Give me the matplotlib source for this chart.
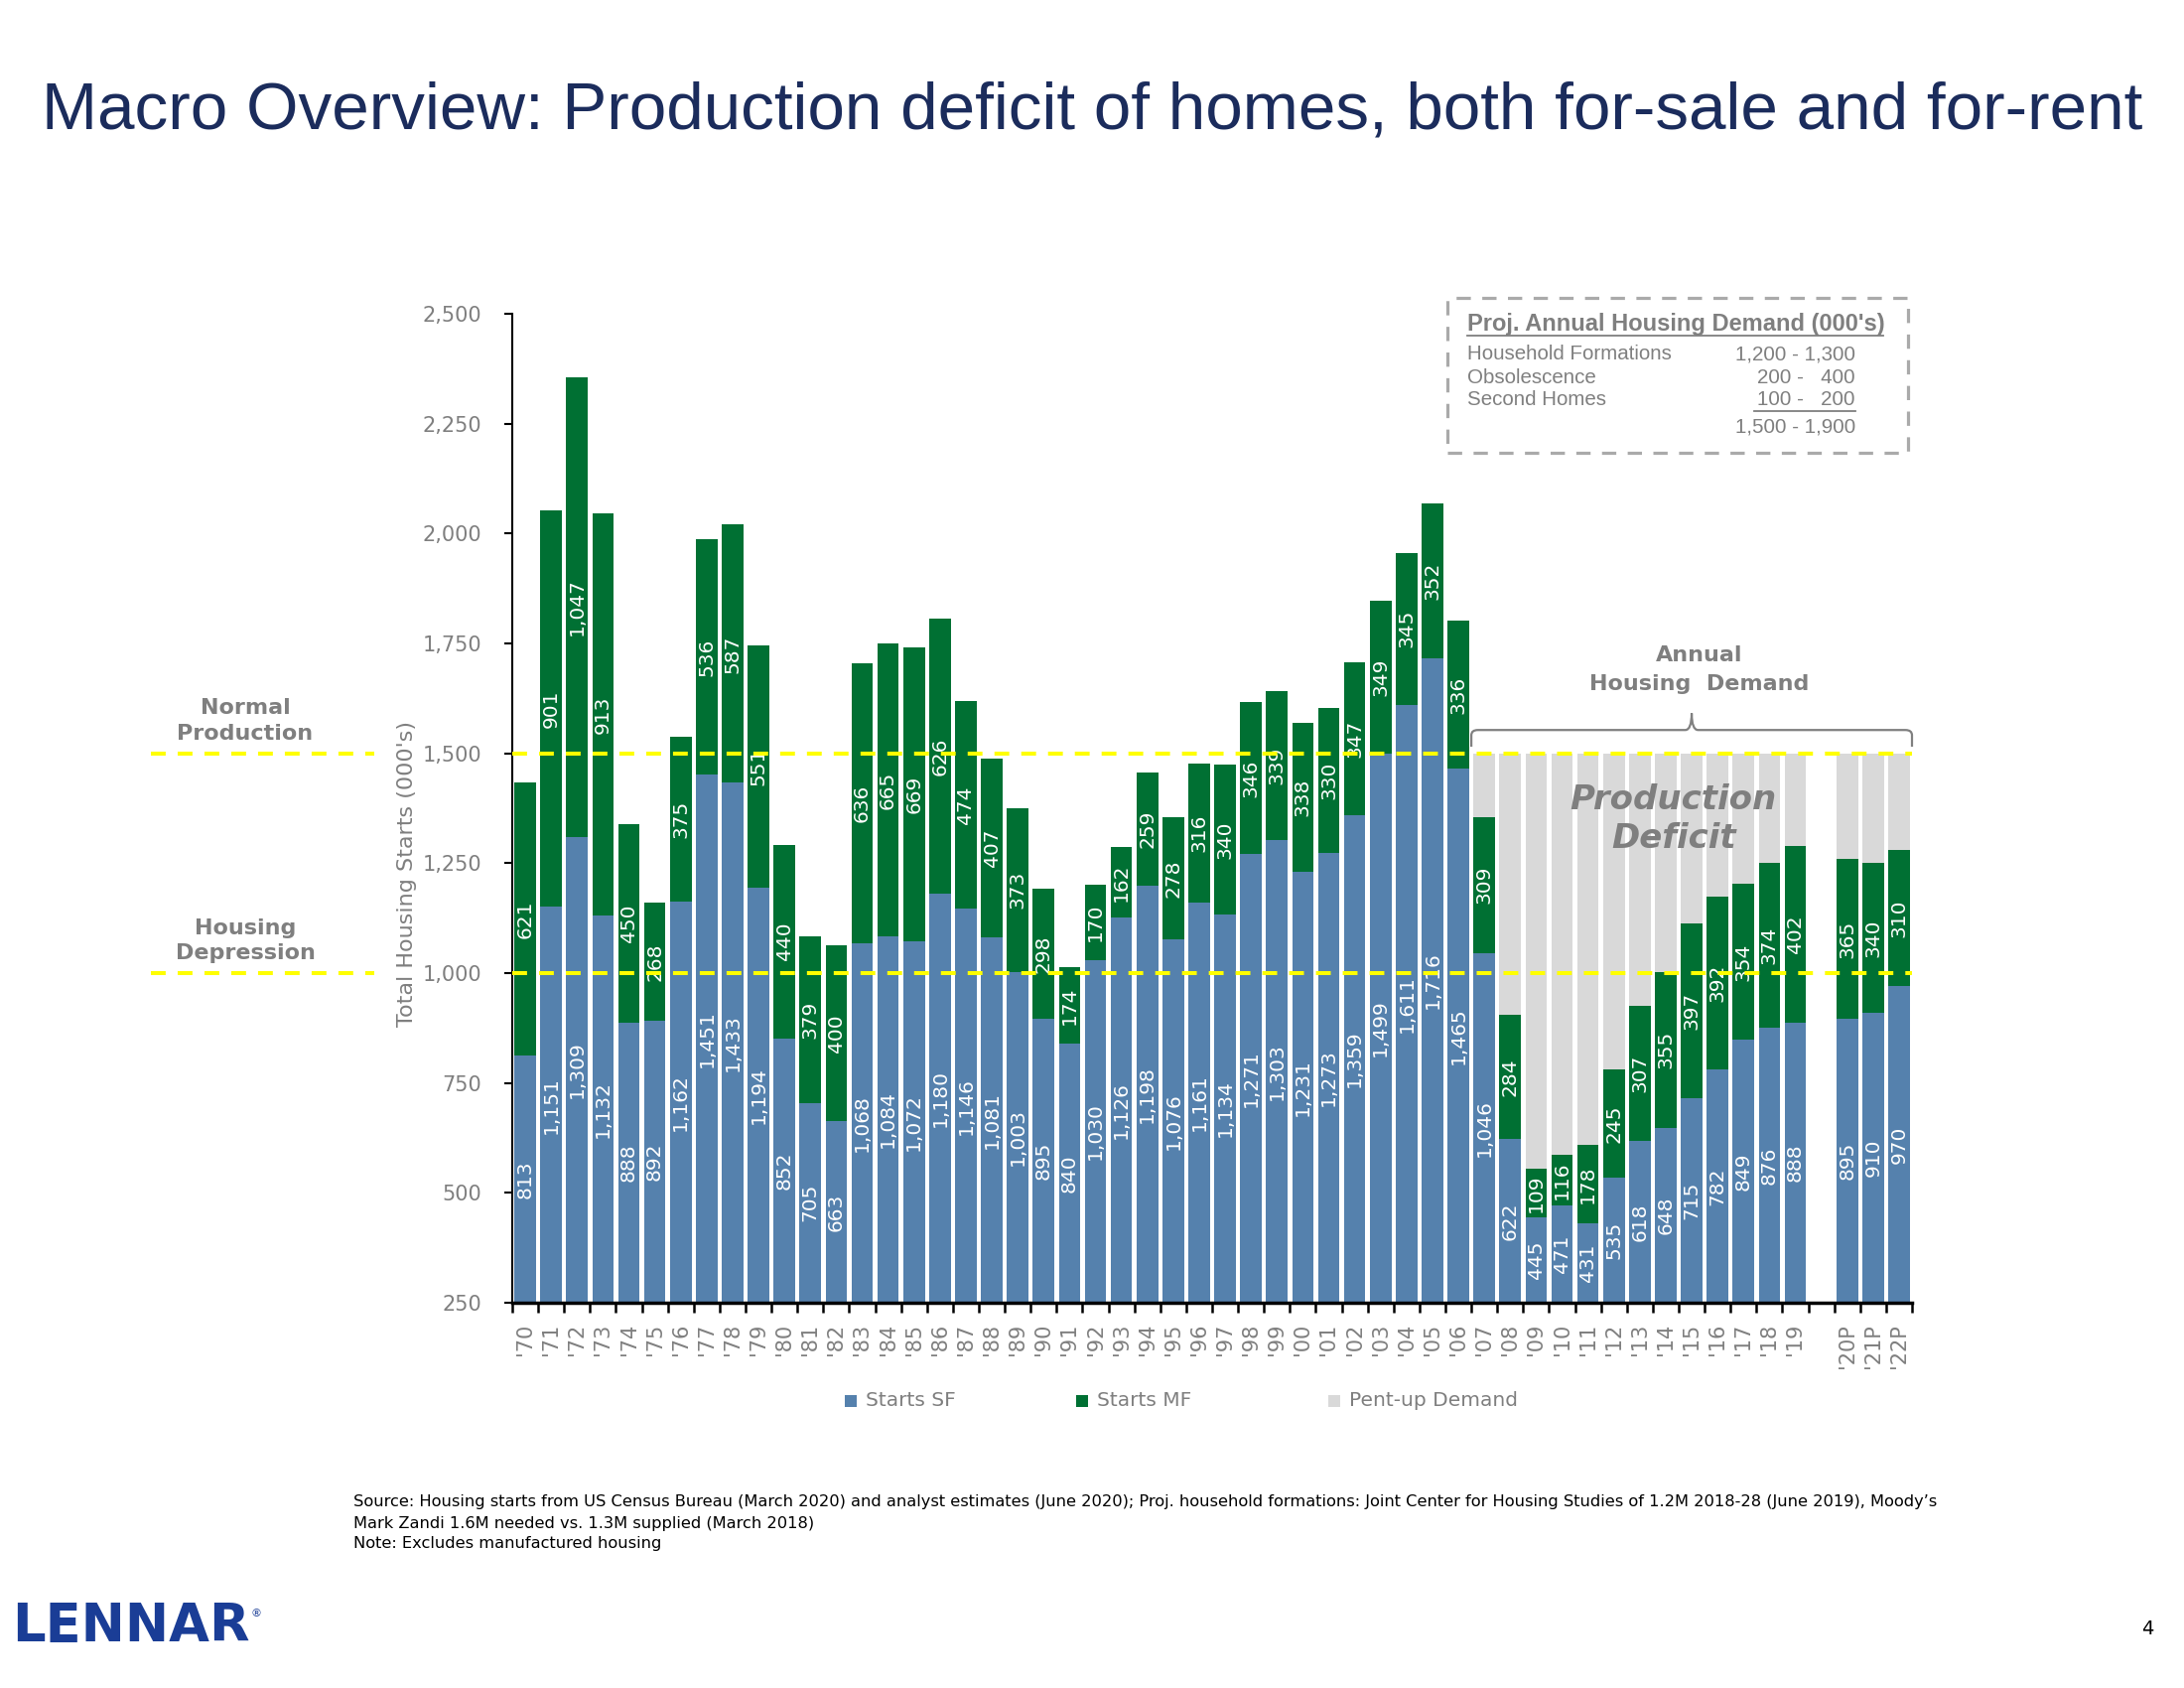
import numpy as np
import matplotlib
matplotlib.use("Agg")
import matplotlib.pyplot as plt
from matplotlib.patches import Rectangle, PathPatch
from matplotlib.lines import Line2D
from matplotlib.path import Path
import matplotlib.transforms as mtransforms

# ---------------- data ----------------
years = ["'70", "'71", "'72", "'73", "'74", "'75", "'76", "'77", "'78", "'79",
         "'80", "'81", "'82", "'83", "'84", "'85", "'86", "'87", "'88", "'89",
         "'90", "'91", "'92", "'93", "'94", "'95", "'96", "'97", "'98", "'99",
         "'00", "'01", "'02", "'03", "'04", "'05", "'06", "'07", "'08", "'09",
         "'10", "'11", "'12", "'13", "'14", "'15", "'16", "'17", "'18", "'19",
         "", "'20P", "'21P", "'22P"]

starts_sf = [813, 1151, 1309, 1132, 888, 892, 1162, 1451, 1433, 1194,
             852, 705, 663, 1068, 1084, 1072, 1180, 1146, 1081, 1003,
             895, 840, 1030, 1126, 1198, 1076, 1161, 1134, 1271, 1303,
             1231, 1273, 1359, 1499, 1611, 1716, 1465, 1046, 622, 445,
             471, 431, 535, 618, 648, 715, 782, 849, 876, 888,
             np.nan, 895, 910, 970]

starts_mf = [621, 901, 1047, 913, 450, 268, 375, 536, 587, 551,
             440, 379, 400, 636, 665, 669, 626, 474, 407, 373,
             298, 174, 170, 162, 259, 278, 316, 340, 346, 339,
             338, 330, 347, 349, 345, 352, 336, 309, 284, 109,
             116, 178, 245, 307, 355, 397, 392, 354, 374, 402,
             np.nan, 365, 340, 310]

pent_up = [0] * 37 + [145, 594, 946, 913, 891, 720, 575, 497, 388, 326, 297, 250, 210,
                      np.nan, 240, 250, 220]

y_ticks = [250, 500, 750, 1000, 1250, 1500, 1750, 2000, 2250, 2500]
ref_levels = [1500, 1000]
ref_names = ["Normal\nProduction", "Housing\nDepression"]

demand_rows = ["Household Formations", "Obsolescence", "Second Homes", ""]
demand_vals = ["1,200 - 1,300", "200 -   400", "100 -   200", "1,500 - 1,900"]

legend_names = ["Starts SF", "Starts MF", "Pent-up Demand"]

# ---------------- style ----------------
C_SF = "#5581AD"
C_MF = "#007033"
C_PENT = "#D9D9D9"
C_YEL = "#FFFF00"
C_GRAY = "#7F7F7F"
C_TITLE = "#1B2C5C"

W, H = 2200, 1700
def fx(px):
    return px / W
def fy(py):
    return 1 - py / H

plt.rcParams["font.family"] = ["DejaVu Sans"]

fig = plt.figure(figsize=(22, 17), dpi=100)
fig.patch.set_facecolor("white")
ax = fig.add_axes([fx(516), fy(1312), (1926 - 516) / W, (1312 - 316) / H])

x = np.arange(len(years))
sf = np.array(starts_sf, dtype=float)
mf = np.array(starts_mf, dtype=float)
pu = np.array(pent_up, dtype=float)
bw = 0.83

ax.bar(x, sf, width=bw, color=C_SF, zorder=2)
ax.bar(x, mf, width=bw, bottom=sf, color=C_MF, zorder=2)
ax.bar(x, pu, width=bw, bottom=sf + mf, color=C_PENT, zorder=2)

ax.set_xlim(-0.5, len(years) - 0.5)
ax.set_ylim(250, 2500)

# data labels
for i in range(len(years)):
    if np.isnan(sf[i]):
        continue
    ax.text(x[i], (250 + sf[i]) / 2, f"{int(sf[i]):,}", rotation=90, ha="center", va="center",
            color="white", fontsize=14.5, zorder=3)
    ax.text(x[i], sf[i] + mf[i] / 2, f"{int(mf[i]):,}", rotation=90, ha="center", va="center",
            color="white", fontsize=14.5, zorder=3)

# axes styling
for s in ["top", "right"]:
    ax.spines[s].set_visible(False)
ax.spines["left"].set_linewidth(1.5)
ax.spines["bottom"].set_linewidth(2.5)
ax.set_yticks(y_ticks)
ax.set_yticklabels([f"{v:,}" for v in y_ticks])
ax.tick_params(axis="y", length=6, width=1.5, pad=16, labelsize=15, labelcolor=C_GRAY)
ax.set_xticks(x)
ax.set_xticklabels(years, rotation=90)
ax.set_xticks(np.arange(len(years) + 1) - 0.5, minor=True)
ax.tick_params(axis="x", which="major", length=0, pad=15, labelsize=15, labelcolor=C_GRAY)
ax.tick_params(axis="x", which="minor", length=7, width=1.8)

fig.text(fx(410), fy(880), "Total Housing Starts (000's)", rotation=90, ha="center", va="center",
         fontsize=16, color=C_GRAY)

# reference lines
blend = mtransforms.blended_transform_factory(fig.transFigure, ax.transData)
for lvl, name in zip(ref_levels, ref_names):
    ax.axhline(lvl, color=C_YEL, lw=2.9, ls=(0, (3.7, 3.0)), zorder=4)
    fig.add_artist(Line2D([fx(152), fx(377)], [lvl, lvl], transform=blend, color=C_YEL,
                          lw=2.9, ls=(0, (3.7, 3.0))))
    fig.text(fx(247), lvl + 22, name, transform=blend,
             ha="center", va="bottom", fontsize=16, fontweight="bold", color=C_GRAY,
             linespacing=1.35)

# bracket for annual housing demand
x0, x1, xm = 36.5, 53.5, 45.0
yb, yh, yt = 1515, 1553, 1591
r = 0.25
verts = [(x0, yb), (x0, yh - 12), (x0, yh), (x0 + r, yh),
         (xm - r, yh), (xm, yh), (xm, yt),
         (xm, yt), (xm, yh), (xm + r, yh),
         (x1 - r, yh), (x1, yh), (x1, yh - 12), (x1, yb)]
codes = [Path.MOVETO, Path.LINETO, Path.CURVE3, Path.CURVE3,
         Path.LINETO, Path.CURVE3, Path.CURVE3,
         Path.MOVETO, Path.CURVE3, Path.CURVE3,
         Path.LINETO, Path.CURVE3, Path.CURVE3, Path.LINETO]
ax.add_patch(PathPatch(Path(verts, codes), fill=False, edgecolor="#808080", lw=1.6,
                       clip_on=False, zorder=5))
ax.text(xm + 0.3, 1690, "Annual\nHousing  Demand", ha="center", va="center", fontsize=16,
        fontweight="bold", color=C_GRAY, linespacing=1.55)
ax.text(44.3, 1350, "Production\nDeficit", ha="center", va="center", fontsize=24.5,
        fontweight="bold", fontstyle="italic", color=C_GRAY, linespacing=1.2, zorder=5)

# projection box
fig.add_artist(Rectangle((fx(1458), fy(456)), (1922 - 1458) / W, (456 - 300) / H,
                         transform=fig.transFigure, fill=False, edgecolor="#AAAAAA",
                         lw=2.3, ls=(0, (4.5, 3.6))))
fig.text(fx(1478), fy(326), "Proj. Annual Housing Demand (000's)", ha="left", va="center",
         fontsize=17, fontweight="bold", color=C_GRAY, family="Liberation Sans")
fig.add_artist(Line2D([fx(1478), fx(1897)], [fy(338), fy(338)], transform=fig.transFigure,
                      color=C_GRAY, lw=1.3))
row_y = [357, 381, 403, 430]
for name, val, yy in zip(demand_rows, demand_vals, row_y):
    fig.text(fx(1478), fy(yy), name, ha="left", va="center", fontsize=14.8, color=C_GRAY,
             family="Liberation Sans")
    fig.text(fx(1869), fy(yy), val, ha="right", va="center", fontsize=14.8, color=C_GRAY,
             family="Liberation Sans")
fig.add_artist(Line2D([fx(1767), fx(1869)], [fy(414), fy(414)], transform=fig.transFigure,
                      color=C_GRAY, lw=1.3))

# legend (manual)
leg_cols = [C_SF, C_MF, C_PENT]
leg_x = [857, 1090, 1344]
for name, col, lx in zip(legend_names, leg_cols, leg_x):
    fig.add_artist(Rectangle((fx(lx - 6), fy(1417)), 12 / W, 12 / H, transform=fig.transFigure,
                             facecolor=col, edgecolor="none"))
    fig.text(fx(lx + 15), fy(1411), name, ha="left", va="center", fontsize=14.5, color=C_GRAY)

# title
fig.text(fx(1100), fy(112), "Macro Overview: Production deficit of homes, both for-sale and for-rent",
         ha="center", va="center", fontsize=48.5, color=C_TITLE, family="Liberation Sans")

# source
src = ["Source: Housing starts from US Census Bureau (March 2020) and analyst estimates (June 2020); Proj. household formations: Joint Center for Housing Studies of 1.2M 2018-28 (June 2019), Moody\u2019s",
       "Mark Zandi 1.6M needed vs. 1.3M supplied (March 2018)",
       "Note: Excludes manufactured housing"]
for line, yy in zip(src, [1512, 1534, 1555]):
    fig.text(fx(356), fy(yy), line, ha="left", va="center", fontsize=11.7, color="black")

# logo & page number
fig.text(fx(12), fy(1638), "LENNAR", ha="left", va="center", fontsize=38, fontweight="bold",
         color="#1A3D96")
fig.text(fx(252), fy(1625), "\u00ae", ha="left", va="center", fontsize=8, color="#1A3D96")
fig.text(fx(2163), fy(1641), "4", ha="center", va="center", fontsize=14, color="black")

fig.savefig("out.png", dpi=100, facecolor="white")
